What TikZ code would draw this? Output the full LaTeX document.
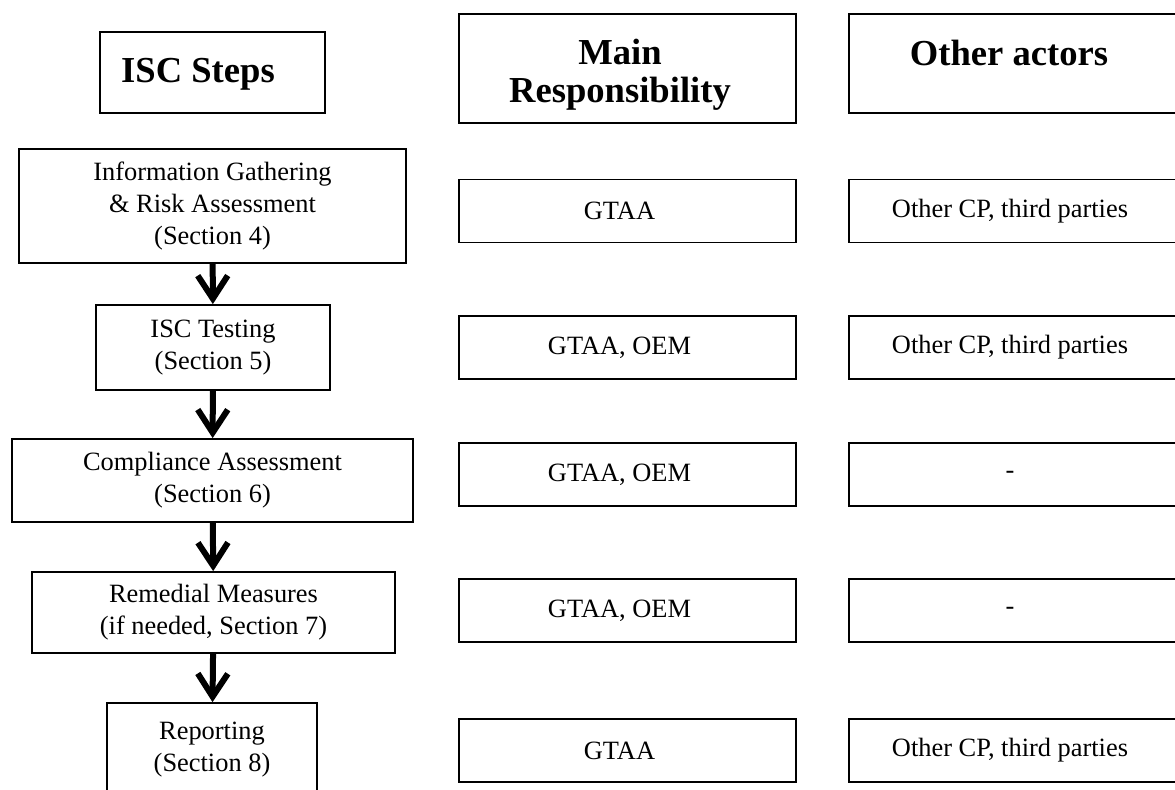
\documentclass[tikz,border=0pt]{standalone}
\usepackage{fontspec}
\setmainfont{Liberation Serif}
\usetikzlibrary{arrows.meta}

\tikzset{
  cell/.style={draw,line width=0.9pt,inner sep=0pt,align=center,
    font=\fontsize{13.2}{16}\selectfont},
  celltext/.style={font=\fontsize{13.2}{16}\selectfont,inner sep=0pt},
  head/.style={font=\fontsize{18.3}{18.7}\selectfont\bfseries,align=center,inner sep=0pt},
  mid/.style={cell,minimum width=168.5pt,minimum height=31.5pt},
  side/.style={cell,minimum width=165.5pt,minimum height=31.5pt},
  flow/.style={line width=3pt,-{Straight Barb[length=11.5pt,width=15pt]}},
}

\begin{document}
\begin{tikzpicture}[x=0.5pt,y=-0.5pt]
\useasboundingbox (0,0) rectangle (1175,789);
\clip (0,0) rectangle (1175,789);

% column heads
\node[cell,minimum width=112.5pt,minimum height=40.5pt] (stepsbox) at (212.5,72.5) {};
\node[head,anchor=base] (steps) at (198,82) {ISC Steps};
\node[cell,minimum width=168.5pt,minimum height=54.5pt] (respbox) at (627.5,68.5) {};
\node[head,anchor=base] (resp) at (620,102) {Main\\Responsibility};
\node[cell,minimum width=165.5pt,minimum height=49.5pt] (actorbox) at (1014.5,63.5) {};
\node[head,anchor=base] (actors) at (1009,65) {Other actors};

% ISC steps
\node[cell,minimum width=193.5pt,minimum height=57pt] (info) at (212.5,206)
  {Information Gathering\\\& Risk Assessment\\(Section 4)};
\node[cell,minimum width=117pt,minimum height=42.5pt] (test) at (213,347.5)
  {ISC Testing\\(Section 5)};
\node[cell,minimum width=200.5pt,minimum height=41.5pt] (comp) at (212.5,480.5)
  {Compliance Assessment\\(Section 6)};
\node[cell,minimum width=181.5pt,minimum height=40.5pt] (reme) at (213.5,612.5)
  {Remedial Measures\\(if needed, Section 7)};
\node[cell,minimum width=105pt,minimum height=47pt] (repo) at (212,750)
  {Reporting\\(Section 8)};

\draw[flow] (info) -- (test);
\draw[flow] (test) -- (comp);
\draw[flow] (comp) -- (reme);
\draw[flow] (reme) -- (repo);

% main responsibility
\node[mid,label={[celltext,xshift=-4pt]center:GTAA}] (resp1) at (627.5,211) {};
\node[mid,label={[celltext,xshift=-4pt]center:GTAA, OEM}] (resp2) at (627.5,347.5) {};
\node[mid,label={[celltext,xshift=-4pt]center:GTAA, OEM}] (resp3) at (627.5,474.5) {};
\node[mid,label={[celltext,xshift=-4pt]center:GTAA, OEM}] (resp4) at (627.5,610.5) {};
\node[mid,label={[celltext,xshift=-4pt]center:GTAA}] (resp5) at (627.5,750.5) {};

% other actors
\node[side,label={[celltext,xshift=-2.25pt]center:Other CP, third parties}] (act1) at (1014.5,211) {};
\node[side,label={[celltext,xshift=-2.25pt]center:Other CP, third parties}] (act2) at (1014.5,347.5) {};
\node[side,label={[celltext,xshift=-2.25pt]center:-}] (act3) at (1014.5,474.5) {};
\node[side,label={[celltext,xshift=-2.25pt]center:-}] (act4) at (1014.5,610.5) {};
\node[side,label={[celltext,xshift=-2.25pt]center:Other CP, third parties}] (act5) at (1014.5,750.5) {};
\end{tikzpicture}
\end{document}
